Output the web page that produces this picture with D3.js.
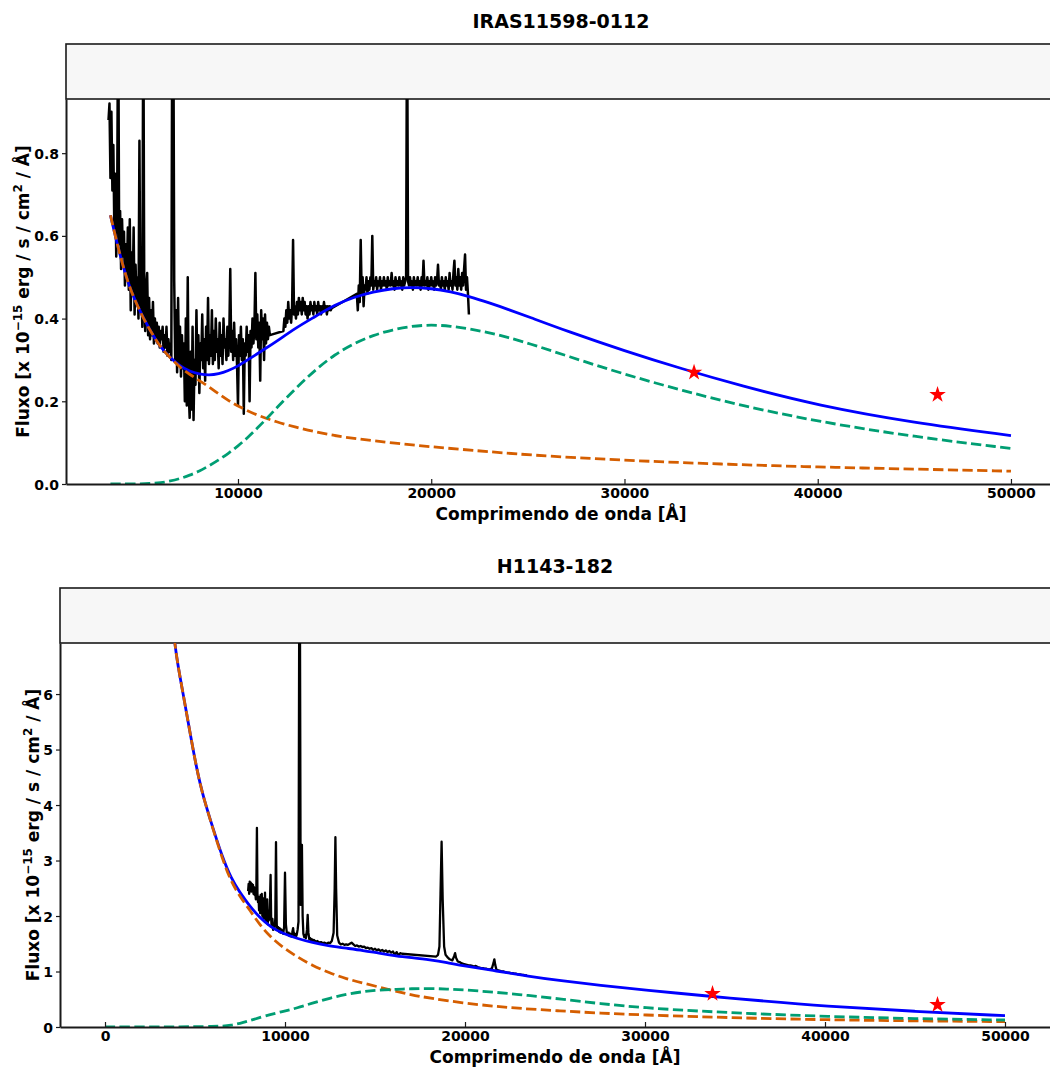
<!DOCTYPE html>
<html><head><meta charset="utf-8">
<script src="https://cdn.jsdelivr.net/npm/d3@7"></script>
<style>
body{margin:0;background:#fff}
text{font-family:"DejaVu Sans",sans-serif;font-weight:bold}
</style>
</head><body>
<svg id="c" width="1050" height="1070"></svg>
<script>
// ---------------- DATA ----------------
const titles = ["IRAS11598-0112", "H1143-182"];
const xLabelText = "Comprimendo de onda [Å]";
const topXTicks = [10000, 20000, 30000, 40000, 50000];
const topYTicks = [0, 0.2, 0.4, 0.6, 0.8];
const botXTicks = [0, 10000, 20000, 30000, 40000, 50000];
const botYTicks = [0, 1, 2, 3, 4, 5, 6];

// IRAS11598-0112 observed spectrum, three sampled pieces (start, step 50 Å)
const topSpecStarts = [3300, 12350, 16150];
const topSpecStep = 50;
const topSpecA = [
 0.88,0.92,0.74,0.90,0.71,0.82,0.62,0.75,0.55,0.70,
 1.20,0.58,0.66,0.52,0.64,0.55,0.61,0.48,0.58,0.50,
 0.62,0.47,0.64,0.42,0.56,0.46,0.62,0.41,0.53,0.44,
 0.50,0.40,0.83,0.42,0.47,0.38,1.20,0.44,0.37,0.48,
 0.51,0.36,0.45,0.35,0.42,0.36,0.44,0.34,0.40,0.35,
 0.39,0.34,0.38,0.33,0.37,0.35,0.38,0.32,0.36,0.33,
 0.38,0.31,0.35,0.32,0.34,0.30,1.20,1.20,0.49,0.30,
 0.42,0.27,0.45,0.29,0.38,0.26,0.36,0.28,0.34,0.20,
 0.40,0.19,0.50,0.22,0.16,0.32,0.18,0.38,0.155,0.30,
 0.24,0.42,0.27,0.36,0.22,0.34,0.30,0.41,0.28,0.35,
 0.25,0.38,0.30,0.45,0.29,0.36,0.31,0.42,0.29,0.37,
 0.30,0.40,0.32,0.35,0.28,0.39,0.31,0.36,0.29,0.40,
 0.33,0.35,0.30,0.38,0.31,0.36,0.52,0.32,0.37,0.30,
 0.39,0.31,0.35,0.29,0.19,0.36,0.31,0.38,0.30,0.35,
 0.17,0.34,0.31,0.38,0.32,0.36,0.20,0.37,0.33,0.40,
 0.34,0.38,0.51,0.35,0.41,0.33,0.39,0.25,0.42,0.35,
 0.40,0.30,0.41,0.34,0.39,0.35,0.38,0.36
];
const topSpecB = [
 0.37,0.40,0.38,0.42,0.39,0.44,0.40,0.42,0.39,0.43,
 0.59,0.41,0.43,0.40,0.44,0.41,0.45,0.42,0.44,0.41,
 0.45,0.42,0.44,0.41,0.43,0.40,0.43,0.41,0.44,0.42,
 0.43,0.41,0.44,0.42,0.43,0.41,0.44,0.42,0.43,0.41,
 0.43,0.42,0.44,0.42,0.43,0.41,0.43,0.42,0.43,0.42,0.425
];
const topSpecC = [
 0.46,0.42,0.48,0.44,0.59,0.46,0.50,0.43,0.48,0.47,
 0.50,0.46,0.49,0.47,0.50,0.48,0.60,0.47,0.49,0.48,
 0.50,0.47,0.49,0.48,0.50,0.47,0.49,0.48,0.50,0.48,
 0.49,0.47,0.50,0.48,0.49,0.48,0.51,0.48,0.49,0.47,
 0.50,0.48,0.49,0.48,0.50,0.48,0.49,0.47,0.50,0.48,
 0.49,0.50,1.20,0.49,0.48,0.50,0.48,0.49,0.47,0.50,
 0.48,0.49,0.48,0.50,0.48,0.49,0.47,0.50,0.48,0.54,
 0.48,0.49,0.48,0.50,0.47,0.49,0.48,0.50,0.48,0.49,
 0.47,0.50,0.48,0.49,0.53,0.48,0.49,0.47,0.50,0.48,
 0.49,0.47,0.50,0.48,0.49,0.47,0.51,0.48,0.49,0.47,
 0.51,0.54,0.48,0.50,0.47,0.52,0.48,0.50,0.47,0.51,
 0.48,0.52,0.555,0.47,0.50,0.46,0.41
];

// IRAS11598-0112 model components [wavelength, flux]
const topPowerLaw = [[3400,0.65],[3800,0.57],[4300,0.485],[4800,0.43],[5200,0.392],[5600,0.36],[6000,0.33],[6500,0.305],[7000,0.282],[7500,0.265],[8000,0.25],[8500,0.235],[9000,0.218],[9500,0.202],[10000,0.188],[11000,0.166],[12000,0.15],[13000,0.137],[14000,0.126],[15000,0.117],[16000,0.11],[18000,0.099],[20000,0.09],[22000,0.082],[25000,0.07],[30000,0.057],[35000,0.048],[40000,0.041],[45000,0.036],[50000,0.031]];
const topBlackBody = [[3400,0],[4500,0],[5500,0.001],[6000,0.003],[6500,0.007],[7000,0.013],[7500,0.021],[8000,0.031],[8500,0.044],[9000,0.058],[9500,0.074],[10000,0.092],[10500,0.112],[11000,0.135],[11500,0.159],[12000,0.184],[13000,0.232],[14000,0.276],[15000,0.313],[16000,0.340],[17000,0.360],[18000,0.373],[19000,0.382],[20000,0.385],[21000,0.382],[22000,0.375],[23000,0.366],[24000,0.354],[25000,0.341],[27000,0.31],[30000,0.265],[33000,0.226],[36000,0.19],[40000,0.151],[45000,0.114],[50000,0.086]];
const topTotal = [[3400,0.65],[3800,0.57],[4300,0.485],[4800,0.43],[5200,0.393],[5600,0.36],[6000,0.33],[6500,0.305],[7000,0.285],[7500,0.272],[8000,0.266],[8500,0.263],[9000,0.266],[9500,0.274],[10000,0.285],[10500,0.3],[11000,0.315],[11500,0.33],[12000,0.345],[13000,0.378],[14000,0.405],[15000,0.433],[16000,0.452],[17000,0.465],[18000,0.473],[19000,0.476],[20000,0.473],[21000,0.465],[22000,0.453],[23000,0.438],[24000,0.422],[25000,0.405],[27000,0.37],[30000,0.322],[33000,0.278],[36000,0.238],[40000,0.19],[45000,0.148],[50000,0.117]];
const topPhot = [[33600,0.27],[46200,0.216]];

// H1143-182 observed spectrum [wavelength, flux]
const botSpec = [[7950,2.45],[7980,2.58],[8010,2.40],[8040,2.62],[8070,2.50],[8100,2.60],[8130,2.44],[8160,2.58],[8190,2.47],[8220,2.56],[8250,2.40],[8280,2.52],[8310,2.38],[8340,2.45],[8380,2.30],[8410,2.55],[8440,3.59],[8470,2.40],[8500,2.25],[8530,2.35],[8560,2.10],[8590,2.30],[8620,2.05],[8650,2.38],[8680,2.15],[8710,2.40],[8740,2.00],[8770,2.28],[8800,1.95],[8830,2.32],[8860,2.05],[8890,2.42],[8920,1.90],[8950,2.20],[8980,1.98],[9010,2.30],[9040,1.85],[9070,2.10],[9100,1.92],[9150,2.05],[9200,2.74],[9230,1.95],[9260,1.80],[9300,1.95],[9340,1.75],[9380,1.82],[9420,1.78],[9460,1.95],[9500,3.33],[9540,1.85],[9580,1.75],[9620,1.80],[9660,1.72],[9700,1.78],[9740,1.70],[9780,1.76],[9820,1.70],[9860,1.74],[9900,1.68],[9950,1.80],[10000,2.78],[10050,1.85],[10100,1.70],[10150,1.66],[10200,1.70],[10250,1.64],[10300,1.68],[10350,1.63],[10400,1.70],[10450,1.78],[10500,1.65],[10550,1.68],[10600,1.62],[10650,1.66],[10700,1.75],[10750,1.90],[10790,7.5],[10830,7.5],[10870,2.2],[10900,2.9],[10940,3.28],[10980,2.0],[11020,1.68],[11070,1.62],[11120,1.66],[11160,1.60],[11220,1.75],[11260,2.02],[11300,1.70],[11350,1.58],[11400,1.60],[11450,1.56],[11500,1.58],[11550,1.55],[11600,1.57],[11700,1.54],[11800,1.55],[11900,1.52],[12000,1.53],[12100,1.51],[12200,1.52],[12300,1.50],[12400,1.52],[12500,1.51],[12600,1.55],[12700,1.70],[12760,2.5],[12800,3.42],[12840,2.5],[12900,1.65],[13000,1.52],[13100,1.49],[13200,1.50],[13300,1.48],[13400,1.49],[13500,1.48],[13600,1.50],[13700,1.52],[13800,1.49],[13900,1.46],[14000,1.47],[14100,1.45],[14200,1.46],[14300,1.44],[14400,1.45],[14500,1.42],[14600,1.43],[14700,1.41],[14800,1.42],[14900,1.39],[15000,1.41],[15100,1.38],[15200,1.40],[15300,1.37],[15400,1.39],[15500,1.36],[15600,1.38],[15700,1.35],[15800,1.37],[15900,1.34],[16000,1.36],[16100,1.30],[16200,1.35],[16300,1.29],[16400,1.33],[16500,1.32],[18400,1.27],[18500,1.30],[18580,1.45],[18640,2.4],[18700,3.34],[18760,2.3],[18840,1.45],[18920,1.30],[19050,1.25],[19150,1.22],[19300,1.20],[19400,1.28],[19450,1.33],[19500,1.25],[19600,1.18],[19700,1.17],[19800,1.15],[19900,1.14],[20000,1.13],[20100,1.12],[20200,1.11],[20300,1.11],[20400,1.10],[20500,1.09],[20600,1.10],[20700,1.08],[20800,1.07],[20900,1.06],[21000,1.06],[21100,1.05],[21200,1.05],[21300,1.04],[21400,1.04],[21500,1.06],[21580,1.15],[21630,1.22],[21680,1.12],[21750,1.03],[21850,1.02],[21950,1.01],[22050,1.00],[22150,1.00],[22250,0.99],[22350,0.98],[22450,0.98],[22550,0.97],[22650,0.97],[22750,0.96],[22850,0.96],[22950,0.95],[23050,0.95],[23150,0.94],[23250,0.94],[23350,0.93],[23450,0.93]];

// H1143-182 model components
const botPowerLaw = [[3850,7.0],[4000,6.6],[4440,5.83],[5090,4.63],[5500,4.1],[6020,3.55],[6500,3.05],[7000,2.62],[7500,2.35],[8060,2.1],[8600,1.84],[9170,1.63],[9900,1.43],[10650,1.27],[11500,1.11],[12500,0.97],[13400,0.87],[14350,0.79],[15830,0.67],[17000,0.58],[18060,0.52],[19910,0.43],[21760,0.37],[23000,0.335],[25280,0.29],[27500,0.25],[30000,0.216],[33000,0.185],[36000,0.158],[40000,0.13],[45000,0.11],[50000,0.096]];
const botBlackBody = [[0,0],[3000,0],[5000,0.005],[6000,0.01],[6500,0.015],[7000,0.03],[7500,0.065],[8000,0.11],[8800,0.19],[9500,0.25],[10000,0.29],[10650,0.34],[11500,0.43],[12500,0.52],[13400,0.59],[14350,0.64],[15200,0.665],[16200,0.68],[17000,0.69],[18060,0.695],[19000,0.685],[19910,0.67],[21760,0.625],[23500,0.57],[25280,0.505],[27500,0.42],[30000,0.345],[33000,0.285],[36000,0.24],[40000,0.19],[45000,0.15],[50000,0.126]];
const botTotal = [[3850,7.0],[4000,6.6],[4440,5.83],[5090,4.63],[5500,4.1],[6020,3.56],[6500,3.08],[7000,2.68],[7500,2.42],[8060,2.17],[8600,1.97],[9170,1.81],[9900,1.68],[10650,1.60],[11500,1.52],[12500,1.46],[13400,1.42],[14350,1.38],[15200,1.33],[16200,1.28],[17000,1.25],[18060,1.21],[19000,1.16],[19910,1.10],[21760,1.01],[23500,0.915],[25280,0.835],[27500,0.75],[30000,0.667],[33700,0.55],[36000,0.485],[40000,0.375],[45000,0.28],[50000,0.204]];
const botPhot = [[33750,0.6],[46250,0.4]];

// ---------------- BUILD ----------------
function sampled(start, step, vals){ return vals.map((v,i)=>[start+i*step, v]); }
const topSpec = [].concat(
  sampled(topSpecStarts[0], topSpecStep, topSpecA),
  sampled(topSpecStarts[1], topSpecStep, topSpecB),
  sampled(topSpecStarts[2], topSpecStep, topSpecC));

const svg = d3.select("#c");
const COL = {blue:"#0000ff", orange:"#d55e00", green:"#009e73", red:"#ff0000", spine:"#1a1a1a"};

const panels = [
  {id:"p0", title:titles[0], xDom:[1100,52330], xR:[66,1056], yDom:[0,0.931], yR:[484,99], box:44,
   xt:topXTicks, yt:topYTicks, yfmt:d3.format(".1f"), titleX:561, titleY:28, ylabX:23,
   spec:topSpec, pl:topPowerLaw, bb:topBlackBody, tot:topTotal, phot:topPhot, specW:2.5},
  {id:"p1", title:titles[1], xDom:[-2500,52500], xR:[60,1050], yDom:[0,6.92], yR:[1027,643], box:588,
   xt:botXTicks, yt:botYTicks, yfmt:d3.format("d"), titleX:555, titleY:573, ylabX:33,
   spec:botSpec, pl:botPowerLaw, bb:botBlackBody, tot:botTotal, phot:botPhot, specW:2.3}
];

panels.forEach(p=>{
  const x = d3.scaleLinear().domain(p.xDom).range(p.xR);
  const y = d3.scaleLinear().domain(p.yDom).range(p.yR);
  const g = svg.append("g");
  const x0=p.xR[0], x1=p.xR[1], yb=p.yR[0], yt=p.yR[1];

  svg.append("clipPath").attr("id","clip"+p.id).append("rect")
    .attr("x",x0).attr("y",yt).attr("width",x1-x0).attr("height",yb-yt);

  g.append("text").attr("x",p.titleX).attr("y",p.titleY).attr("text-anchor","middle")
    .attr("font-size",19).text(p.title);

  g.append("rect").attr("x",x0).attr("y",p.box).attr("width",x1-x0+20).attr("height",yt-p.box)
    .attr("fill","#f7f7f7").attr("stroke",COL.spine).attr("stroke-width",1.6);

  const plot = g.append("g").attr("clip-path","url(#clip"+p.id+")");
  const line = d3.line().x(d=>x(d[0])).y(d=>y(d[1]));
  const smooth = d3.line().x(d=>x(d[0])).y(d=>y(d[1])).curve(d3.curveBasis);

  plot.append("path").datum(p.spec).attr("d",line).attr("fill","none")
    .attr("stroke","#000").attr("stroke-width",p.specW).attr("stroke-linejoin","round");
  plot.append("path").datum(p.tot).attr("d",smooth).attr("fill","none")
    .attr("stroke",COL.blue).attr("stroke-width",2.8);
  plot.append("path").datum(p.pl).attr("d",smooth).attr("fill","none")
    .attr("stroke",COL.orange).attr("stroke-width",2.8).attr("stroke-dasharray","10.3,4.4");
  plot.append("path").datum(p.bb).attr("d",smooth).attr("fill","none")
    .attr("stroke",COL.green).attr("stroke-width",2.8).attr("stroke-dasharray","10.3,4.4");
  plot.selectAll("path.star").data(p.phot).enter().append("path").attr("class","star")
    .attr("d",d3.symbol().type(d3.symbolStar).size(85))
    .attr("transform",d=>`translate(${x(d[0])},${y(d[1])})`).attr("fill",COL.red);

  const ax = g.append("g").attr("transform",`translate(0,${yb})`)
    .call(d3.axisBottom(x).tickValues(p.xt).tickFormat(d3.format("d")).tickSizeInner(-5).tickSizeOuter(0).tickPadding(4));
  const ay = g.append("g").attr("transform",`translate(${x0},0)`)
    .call(d3.axisLeft(y).tickValues(p.yt).tickFormat(p.yfmt).tickSizeInner(4).tickSizeOuter(0).tickPadding(3));
  [ax,ay].forEach(a=>{
    a.select(".domain").attr("stroke",COL.spine).attr("stroke-width",2);
    a.selectAll(".tick line").attr("stroke",COL.spine).attr("stroke-width",1.2);
    a.selectAll(".tick text").attr("fill","#000").attr("font-size",14)
      .attr("font-family","DejaVu Sans").attr("font-weight","bold");
  });
  ay.selectAll(".tick text").attr("dy","0.36em");

  g.append("text").attr("x",(x0+Math.min(x1,1062))/2).attr("y",yb+36).attr("text-anchor","middle")
    .attr("font-size",17).text(xLabelText);
  const yl = g.append("text").attr("transform",`translate(${p.ylabX},${(yb+yt)/2}) rotate(-90)`)
    .attr("text-anchor","middle").attr("font-size",17).attr("dy","0.36em");
  yl.append("tspan").text("Fluxo [x 10");
  yl.append("tspan").attr("font-size",12).attr("dy",-7).text("−15");
  yl.append("tspan").attr("dy",7).text(" erg / s / cm");
  yl.append("tspan").attr("font-size",12).attr("dy",-7).text("2");
  yl.append("tspan").attr("dy",7).text(" / Å]");
});
</script>
</body></html>
